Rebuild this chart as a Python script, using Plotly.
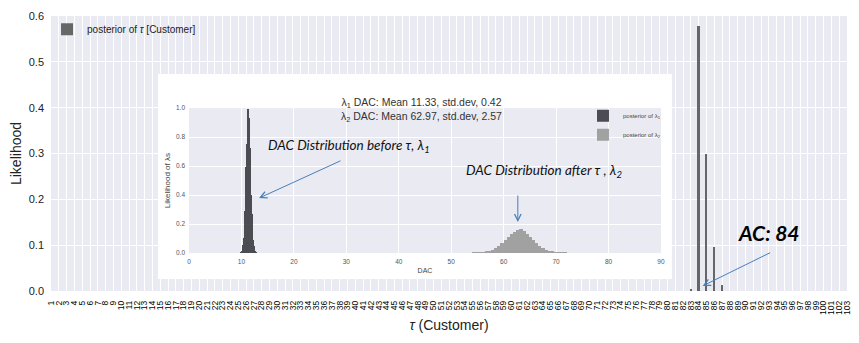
import plotly.graph_objects as go
import numpy as np

# posterior of the switchpoint tau (customer index)
tau = list(range(1, 104))
tau_posterior = [0.0] * 82 + [0.004, 0.578, 0.300, 0.095, 0.014] + [0.0] * 16

# posterior histograms of lambda_1 / lambda_2 (DAC), normed
lam1_start, lam1_width = 9.9, 0.12
lam1_heights = [0.005, 0.011, 0.025, 0.053, 0.10, 0.177, 0.286, 0.428, 0.59, 0.749,
                0.875, 0.99, 0.93, 0.858, 0.724, 0.564, 0.403, 0.266, 0.162, 0.09,
                0.047, 0.022, 0.01, 0.004]
lam2_start, lam2_width = 54.0, 0.6
lam2_heights = [0.0006, 0.0012, 0.0025, 0.0045, 0.008, 0.014, 0.022, 0.034, 0.05, 0.07,
                0.09, 0.113, 0.133, 0.147, 0.157, 0.162, 0.15, 0.131, 0.11, 0.088,
                0.066, 0.048, 0.033, 0.021, 0.013, 0.0075, 0.004, 0.002, 0.001, 0.0005]
lam1_x = lam1_start + lam1_width * (np.arange(len(lam1_heights)) + 0.5)
lam2_x = lam2_start + lam2_width * (np.arange(len(lam2_heights)) + 0.5)

lam1_mean, lam1_sd = 11.33, 0.42
lam2_mean, lam2_sd = 62.97, 2.57

FONT = "Liberation Sans"
BG = "#EAEAF2"
ARROW = "#4A7EBB"

fig = go.Figure()

fig.add_trace(go.Bar(
    x=tau, y=tau_posterior, width=0.2,
    marker=dict(color="#666666", line=dict(width=0)),
    name="posterior of <i>τ</i> [Customer]",
    xaxis="x", yaxis="y", legend="legend",
))

# empty helper trace so the white inset panel gets its own subplot layer
fig.add_trace(go.Scatter(x=[], y=[], xaxis="x2", yaxis="y2", showlegend=False, hoverinfo="skip"))

fig.add_trace(go.Bar(
    x=lam1_x, y=lam1_heights, width=lam1_width,
    marker=dict(color="#3b3b42", line=dict(width=0)), opacity=0.9,
    name="posterior of λ<sub>1</sub>",
    xaxis="x3", yaxis="y3", legend="legend2",
))
fig.add_trace(go.Bar(
    x=lam2_x, y=lam2_heights, width=lam2_width,
    marker=dict(color="#9a9a9a", line=dict(width=0)), opacity=0.9,
    name="posterior of λ<sub>2</sub>",
    xaxis="x3", yaxis="y3", legend="legend2",
))

annotations = [
    dict(xref="paper", yref="paper", x=0.465, y=0.716, showarrow=False,
         text=f"λ<sub>1</sub> DAC: Mean {lam1_mean}, std.dev, {lam1_sd}<br>"
              f"λ<sub>2</sub> DAC: Mean {lam2_mean}, std.dev, {lam2_sd}",
         font=dict(family=FONT, size=10.5, color="#333")),
    # inset arrows and notes
    dict(xref="x3", yref="y3", x=30.5, y=0.738, showarrow=False,
         text="<i>DAC Distribution before τ, λ<sub>1</sub></i>",
         font=dict(family="Lato", size=13.5, color="#111")),
    dict(xref="x3", yref="y3", x=13.35, y=0.379, ax=83, ay=-38, text="",
         showarrow=True, arrowhead=5, arrowsize=1.3, arrowwidth=1, arrowcolor=ARROW),
    dict(xref="x3", yref="y3", x=67.7, y=0.566, showarrow=False,
         text="<i>DAC Distribution after τ , λ<sub>2</sub></i>",
         font=dict(family="Lato", size=13.5, color="#111")),
    dict(xref="x3", yref="y3", x=62.7, y=0.214, ax=0, ay=-28, text="",
         showarrow=True, arrowhead=5, arrowsize=1.3, arrowwidth=1, arrowcolor=ARROW),
    # main chart note
    dict(xref="x", yref="y", x=93.05, y=0.127, showarrow=False,
         text="<b><i>AC: 84</i></b>",
         font=dict(family="Lato", size=21, color="#000")),
    dict(xref="x", yref="y", x=84.5, y=0.011, ax=69, ay=-34, text="",
         showarrow=True, arrowhead=5, arrowsize=1.3, arrowwidth=1, arrowcolor=ARROW),
]

# the page body adds an 8px offset, so the figure is 8px smaller on each axis
fig.update_layout(
    width=851, height=335,
    margin=dict(l=43, r=12, t=8, b=52, autoexpand=False),
    paper_bgcolor="white", plot_bgcolor=BG,
    font=dict(family=FONT, color="#222"),
    barmode="overlay", bargap=0,
    showlegend=True,
    xaxis=dict(
        domain=[0, 1], range=[1, 103], tickvals=tau, ticktext=[str(t) for t in tau],
        tickangle=-90, tickfont=dict(size=8.5, color="#000"), ticks="", ticklabelstandoff=7,
        showgrid=True, gridcolor="white", gridwidth=1.3, zeroline=False, showline=False,
        title=dict(text="<i>τ</i> (Customer)", font=dict(size=14, color="#222"), standoff=6),
        anchor="y", automargin=False,
    ),
    yaxis=dict(
        domain=[0, 1], range=[0, 0.6], dtick=0.1, tickformat=".1f",
        tickfont=dict(size=11, color="#222"), ticks="", ticklabelstandoff=6,
        showgrid=True, gridcolor="white", gridwidth=1.3, zeroline=False, showline=False,
        title=dict(text="Likelihood", font=dict(size=14, color="#222"), standoff=6),
        anchor="x", automargin=False,
    ),
    xaxis2=dict(domain=[0.1344, 0.780], range=[0, 1], visible=False, anchor="y2", automargin=False),
    yaxis2=dict(domain=[0.0436, 0.789], range=[0, 1], visible=False, anchor="x2", automargin=False),
    xaxis3=dict(
        domain=[0.1734, 0.7663], range=[0, 90], dtick=10, anchor="y3", automargin=False,
        tickfont=dict(size=6.5, color="#555"), ticks="", ticklabelstandoff=3,
        showgrid=True, gridcolor="white", gridwidth=1, zeroline=False, showline=False,
        title=dict(text="DAC", font=dict(size=7, color="#444"), standoff=4),
    ),
    yaxis3=dict(
        domain=[0.138, 0.665], range=[0, 1.0], dtick=0.2, tickformat=".1f", anchor="x3", automargin=False,
        tickfont=dict(size=6.5, color="#555"), ticks="", ticklabelstandoff=3,
        showgrid=True, gridcolor="white", gridwidth=1, zeroline=False, showline=False,
        title=dict(text="Likelihood of λs", font=dict(size=8, color="#444"), standoff=4),
    ),
    legend=dict(x=-0.005, y=1.005, xanchor="left", yanchor="top", bgcolor="rgba(0,0,0,0)",
                font=dict(size=10, color="#222"), itemwidth=30),
    legend2=dict(x=0.7726, y=0.69, xanchor="right", yanchor="top", bgcolor="rgba(0,0,0,0)",
                 font=dict(size=6, color="#444"), itemwidth=30, tracegroupgap=0),
    shapes=[dict(type="rect", xref="x2", yref="y2", x0=0, x1=1, y0=0, y1=1,
                 fillcolor="white", line=dict(width=0), layer="below")],
    annotations=annotations,
)

fig.write_html("out.html")
